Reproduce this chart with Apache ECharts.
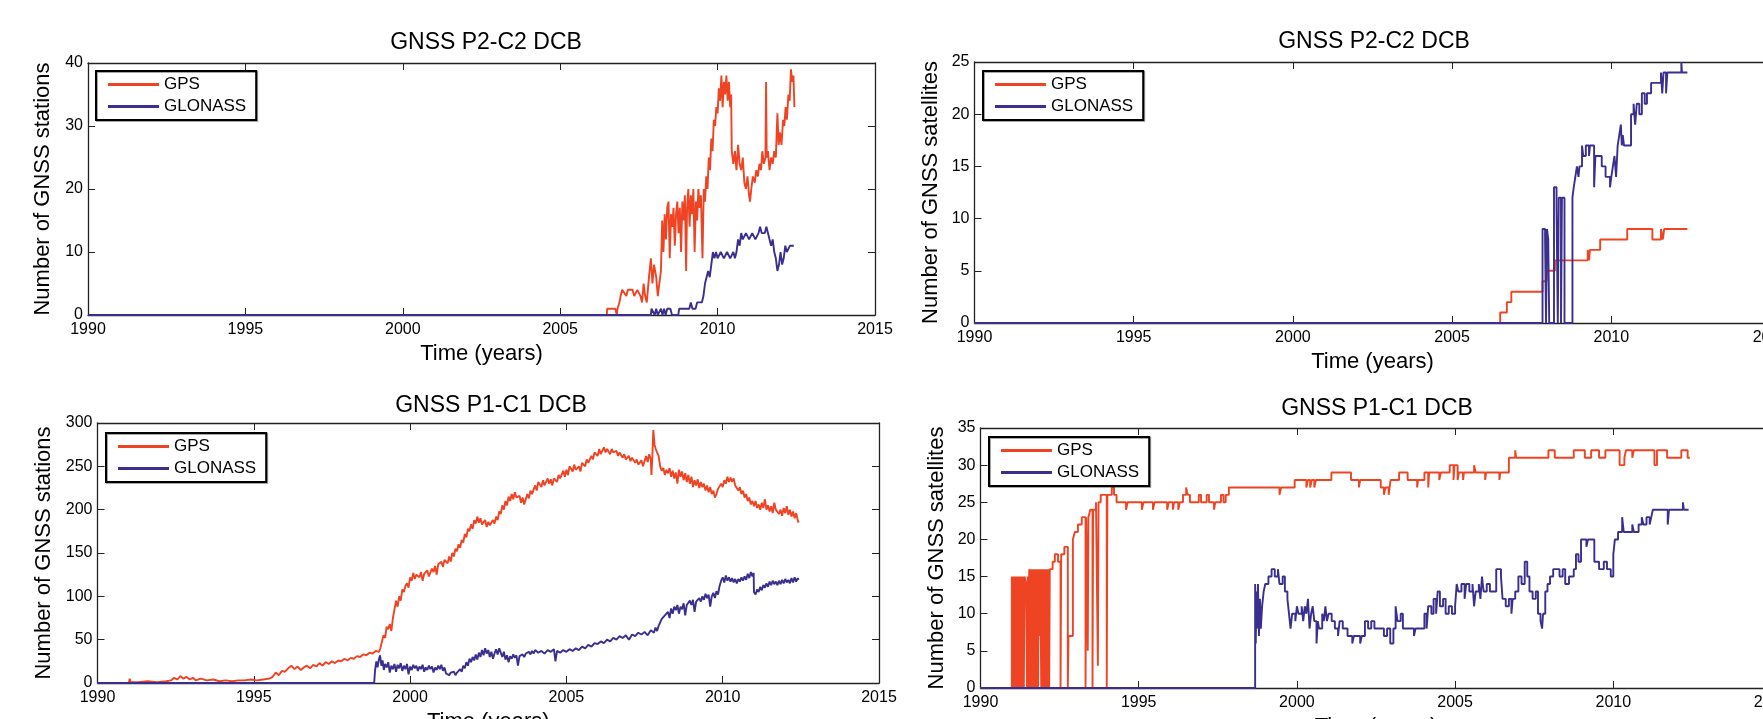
<!DOCTYPE html>
<html><head><meta charset="utf-8">
<script src="https://cdn.jsdelivr.net/npm/echarts/dist/echarts.min.js"></script>
<style>html,body{margin:0;padding:0;background:#fff;overflow:hidden}#c{width:1763px;height:719px}</style>
</head><body><div id="c"></div><script>
// ---------- tick labels ----------
const xTicks = [1990, 1995, 2000, 2005, 2010, 2015];
const tlYTicks = [0, 10, 20, 30, 40];
const trYTicks = [0, 5, 10, 15, 20, 25];
const blYTicks = [0, 50, 100, 150, 200, 250, 300];
const brYTicks = [0, 5, 10, 15, 20, 25, 30, 35];
const seriesNames = ['GPS', 'GLONASS'];
const titles = ['GNSS P2-C2 DCB', 'GNSS P2-C2 DCB', 'GNSS P1-C1 DCB', 'GNSS P1-C1 DCB'];
const yNames = ['Number of GNSS stations', 'Number of GNSS satellites', 'Number of GNSS stations', 'Number of GNSS satellites'];
const xName = 'Time (years)';

// ---------- top-left: P2-C2 stations ----------
const tlGps = [[1990,0],[2006.48,0],[2006.49,1],[2006.75,1],[2006.8,0],[2006.82,1],[2006.88,2],[2006.92,3],[2006.97,4],[2007.1,3],[2007.15,4],[2007.3,4],[2007.35,3],[2007.45,4],[2007.55,3],[2007.6,2],[2007.65,5],[2007.7,3],[2007.75,2],[2007.82,6],[2007.88,9],[2007.93,5],[2007.98,8],[2008.05,6],[2008.1,3],[2008.15,5],[2008.2,7],[2008.24,15],[2008.28,10],[2008.32,16],[2008.36,12],[2008.4,17],[2008.44,18],[2008.48,9],[2008.52,16],[2008.56,14],[2008.6,17],[2008.64,11],[2008.68,16],[2008.72,18],[2008.76,13],[2008.8,17],[2008.84,10],[2008.88,18],[2008.92,15],[2008.96,19],[2009.0,7],[2009.03,17],[2009.07,20],[2009.11,14],[2009.15,19],[2009.19,16],[2009.23,20],[2009.27,10],[2009.31,18],[2009.35,15],[2009.39,20],[2009.43,17],[2009.47,19],[2009.52,9],[2009.56,20],[2009.6,18],[2009.64,22],[2009.68,20],[2009.72,25],[2009.76,23],[2009.8,28],[2009.84,26],[2009.88,31],[2009.92,30],[2009.96,33],[2010.0,32],[2010.04,36],[2010.08,34],[2010.12,38],[2010.16,33],[2010.2,37],[2010.24,35],[2010.28,38],[2010.32,34],[2010.36,37],[2010.4,33],[2010.43,35],[2010.45,26],[2010.5,24],[2010.55,26],[2010.6,23],[2010.65,27],[2010.7,24],[2010.75,23],[2010.8,25],[2010.85,21],[2010.9,20],[2010.95,22],[2011.0,19],[2011.03,18],[2011.07,20],[2011.12,22],[2011.18,21],[2011.23,23],[2011.28,22],[2011.33,24],[2011.38,23],[2011.42,26],[2011.47,24],[2011.52,25],[2011.54,37],[2011.56,25],[2011.6,26],[2011.65,23],[2011.7,25],[2011.75,24],[2011.8,26],[2011.85,25],[2011.9,32],[2011.94,27],[2011.98,29],[2012.03,27],[2012.08,31],[2012.12,30],[2012.16,33],[2012.2,31],[2012.25,35],[2012.29,34],[2012.33,39],[2012.37,37],[2012.41,38],[2012.44,33]];
const tlGlo = [[1990,0],[2007.88,0],[2007.9,1],[2008.0,0],[2008.05,1],[2008.1,0],[2008.2,1],[2008.25,0],[2008.3,1],[2008.35,0],[2008.4,1],[2008.5,1],[2008.55,0],[2008.75,0],[2008.78,1],[2009.1,1],[2009.15,2],[2009.2,1],[2009.3,1],[2009.35,2],[2009.5,2],[2009.55,3],[2009.6,5],[2009.65,6],[2009.7,7],[2009.75,6],[2009.8,8],[2009.85,10],[2009.9,9],[2009.95,10],[2010.0,9],[2010.1,10],[2010.2,9],[2010.3,10],[2010.4,9],[2010.5,10],[2010.55,9],[2010.6,10],[2010.65,12],[2010.7,11],[2010.75,13],[2010.8,12],[2010.9,13],[2011.0,12],[2011.1,13],[2011.2,12],[2011.3,13],[2011.35,14],[2011.4,13],[2011.5,13],[2011.55,14],[2011.6,13],[2011.65,12],[2011.7,11],[2011.75,12],[2011.8,10],[2011.85,9],[2011.9,7],[2011.95,8],[2012.0,10],[2012.05,8],[2012.1,9],[2012.15,11],[2012.2,10],[2012.3,11],[2012.42,11]];

// ---------- top-right: P2-C2 satellites ----------
const trGps = [[1990,0],[2006.51,1],[2006.72,2],[2006.86,3],[2007.84,4],[2007.97,5],[2008.23,6],[2009.26,7],[2009.3,6],[2009.33,7],[2009.65,8],[2010.5,9],[2011.29,8],[2011.56,9],[2011.62,8],[2011.66,9],[2012.39,9]];
const trGlo = [[1990,0],[2007.84,9],[2007.92,8],[2007.95,0],[2007.98,9],[2008.02,8],[2008.05,0],[2008.2,13],[2008.28,11],[2008.32,0],[2008.35,12],[2008.42,0],[2008.45,12],[2008.53,0],[2008.78,12],[2008.82,13],[2008.87,14],[2008.92,15],[2008.97,14],[2009.0,15],[2009.08,17],[2009.12,16],[2009.2,17],[2009.3,16],[2009.33,17],[2009.46,13],[2009.5,16],[2009.7,15],[2009.82,14],[2009.96,13],[2010.0,14],[2010.05,15],[2010.1,16],[2010.15,14],[2010.2,17],[2010.25,18],[2010.3,19],[2010.33,17],[2010.36,18],[2010.4,17],[2010.62,20],[2010.7,21],[2010.75,19],[2010.8,21],[2010.88,20],[2010.96,22],[2011.05,21],[2011.12,22],[2011.25,23],[2011.56,24],[2011.6,22],[2011.64,24],[2011.72,22],[2011.76,24],[2012.2,25],[2012.22,24],[2012.39,24]];

// ---------- bottom-left: P1-C1 stations ----------
const blGps = [[1990,0],[1991.0,0],[1991.03,5],[1991.06,1],[1991.3,1],[1991.6,2],[1991.9,1],[1992.2,2],[1992.35,3],[1992.45,6],[1992.55,4],[1992.65,8],[1992.75,5],[1992.85,7],[1992.95,4],[1993.05,6],[1993.15,3],[1993.3,5],[1993.5,3],[1993.7,4],[1993.9,2],[1994.1,3],[1994.3,2],[1994.5,3],[1994.7,3],[1994.9,4],[1995.1,3],[1995.3,4],[1995.5,5],[1995.6,7],[1995.7,12],[1995.8,9],[1995.9,14],[1996.0,13],[1996.1,17],[1996.2,20],[1996.3,16],[1996.4,19],[1996.5,15],[1996.6,18],[1996.7,20],[1996.8,17],[1996.9,21],[1997.0,19],[1997.1,23],[1997.2,20],[1997.3,24],[1997.4,22],[1997.5,25],[1997.6,23],[1997.7,26],[1997.8,25],[1997.9,28],[1998.0,26],[1998.1,29],[1998.2,28],[1998.3,31],[1998.4,30],[1998.5,33],[1998.6,32],[1998.7,35],[1998.8,34],[1998.9,37],[1999.0,36],[1999.05,40],[1999.1,48],[1999.15,55],[1999.2,52],[1999.25,65],[1999.3,62],[1999.35,68],[1999.4,60],[1999.45,75],[1999.5,85],[1999.55,95],[1999.6,88],[1999.65,100],[1999.7,95],[1999.75,108],[1999.8,105],[1999.85,112],[1999.9,115],[1999.95,110],[2000.0,122],[2000.05,118],[2000.1,127],[2000.15,120],[2000.2,125],[2000.3,122],[2000.35,128],[2000.4,118],[2000.45,126],[2000.5,124],[2000.55,130],[2000.6,123],[2000.7,132],[2000.75,128],[2000.8,135],[2000.85,125],[2000.9,137],[2001.0,140],[2001.05,134],[2001.1,142],[2001.2,138],[2001.25,146],[2001.3,140],[2001.35,150],[2001.4,146],[2001.45,155],[2001.5,152],[2001.55,160],[2001.6,156],[2001.65,165],[2001.7,162],[2001.75,172],[2001.8,168],[2001.85,178],[2001.9,175],[2001.95,183],[2002.0,178],[2002.05,188],[2002.1,184],[2002.15,192],[2002.2,185],[2002.25,190],[2002.3,183],[2002.4,188],[2002.45,180],[2002.5,186],[2002.55,182],[2002.6,180],[2002.65,188],[2002.7,184],[2002.75,192],[2002.8,188],[2002.85,198],[2002.9,195],[2002.95,205],[2003.0,200],[2003.05,210],[2003.1,205],[2003.15,215],[2003.2,210],[2003.25,218],[2003.3,212],[2003.35,220],[2003.4,214],[2003.5,216],[2003.55,208],[2003.6,214],[2003.65,206],[2003.7,212],[2003.75,218],[2003.8,213],[2003.85,222],[2003.9,218],[2004.0,228],[2004.05,222],[2004.1,232],[2004.2,226],[2004.25,234],[2004.3,228],[2004.4,236],[2004.45,230],[2004.5,235],[2004.55,228],[2004.6,236],[2004.7,232],[2004.75,240],[2004.8,236],[2004.9,245],[2004.95,238],[2005.0,246],[2005.05,240],[2005.1,250],[2005.2,244],[2005.25,252],[2005.3,246],[2005.4,250],[2005.45,244],[2005.5,254],[2005.6,250],[2005.65,258],[2005.7,254],[2005.8,262],[2005.85,258],[2005.9,266],[2006.0,262],[2006.05,270],[2006.1,264],[2006.2,272],[2006.25,266],[2006.3,270],[2006.4,264],[2006.45,270],[2006.5,266],[2006.6,268],[2006.65,262],[2006.7,266],[2006.8,260],[2006.85,264],[2006.9,258],[2007.0,262],[2007.05,256],[2007.1,260],[2007.2,254],[2007.25,258],[2007.3,252],[2007.4,257],[2007.45,250],[2007.5,256],[2007.55,262],[2007.6,255],[2007.65,264],[2007.7,258],[2007.72,240],[2007.75,262],[2007.78,292],[2007.82,275],[2007.86,270],[2007.9,266],[2007.95,262],[2008.0,250],[2008.05,245],[2008.1,248],[2008.15,240],[2008.2,246],[2008.25,242],[2008.3,248],[2008.35,238],[2008.4,245],[2008.45,236],[2008.5,243],[2008.55,230],[2008.6,246],[2008.65,238],[2008.7,244],[2008.75,234],[2008.8,242],[2008.85,232],[2008.9,240],[2008.95,230],[2009.0,238],[2009.05,226],[2009.1,234],[2009.15,228],[2009.2,235],[2009.25,225],[2009.3,232],[2009.35,226],[2009.4,230],[2009.45,222],[2009.5,228],[2009.55,220],[2009.6,226],[2009.65,218],[2009.7,222],[2009.75,214],[2009.8,218],[2009.85,224],[2009.9,222],[2009.95,230],[2010.0,226],[2010.05,234],[2010.1,230],[2010.15,238],[2010.2,232],[2010.25,237],[2010.3,232],[2010.35,236],[2010.4,228],[2010.45,230],[2010.5,222],[2010.55,226],[2010.6,218],[2010.65,222],[2010.7,214],[2010.75,218],[2010.8,210],[2010.85,214],[2010.9,206],[2010.95,210],[2011.0,204],[2011.05,210],[2011.1,202],[2011.15,206],[2011.2,200],[2011.25,208],[2011.3,202],[2011.35,212],[2011.4,200],[2011.45,205],[2011.5,198],[2011.55,204],[2011.6,196],[2011.65,208],[2011.7,200],[2011.75,202],[2011.8,195],[2011.85,200],[2011.9,193],[2011.95,202],[2012.0,196],[2012.05,204],[2012.1,194],[2012.15,200],[2012.2,192],[2012.25,198],[2012.3,190],[2012.35,196],[2012.4,188],[2012.43,185]];
const blGlo = [[1990,0],[1998.85,0],[1998.88,15],[1998.92,25],[1998.96,18],[1999.0,27],[1999.04,32],[1999.08,20],[1999.12,26],[1999.16,15],[1999.2,22],[1999.25,18],[1999.3,24],[1999.35,12],[1999.4,20],[1999.45,16],[1999.5,22],[1999.55,13],[1999.6,21],[1999.65,17],[1999.7,23],[1999.75,14],[1999.8,20],[1999.85,16],[1999.9,22],[1999.95,10],[2000.0,19],[2000.05,15],[2000.1,21],[2000.15,17],[2000.2,20],[2000.25,14],[2000.3,19],[2000.35,16],[2000.4,21],[2000.45,13],[2000.5,18],[2000.55,15],[2000.6,20],[2000.65,16],[2000.7,19],[2000.75,12],[2000.8,18],[2000.85,15],[2000.9,20],[2000.95,16],[2001.0,21],[2001.05,14],[2001.1,18],[2001.15,11],[2001.2,13],[2001.25,9],[2001.3,12],[2001.35,10],[2001.4,13],[2001.45,9],[2001.5,12],[2001.55,10],[2001.6,16],[2001.65,13],[2001.7,20],[2001.75,17],[2001.8,24],[2001.85,20],[2001.9,28],[2001.95,24],[2002.0,30],[2002.05,26],[2002.1,33],[2002.15,27],[2002.2,35],[2002.25,30],[2002.3,38],[2002.35,32],[2002.4,40],[2002.45,34],[2002.5,38],[2002.55,30],[2002.6,36],[2002.65,28],[2002.7,34],[2002.75,39],[2002.8,33],[2002.85,40],[2002.9,35],[2002.95,30],[2003.0,36],[2003.05,27],[2003.1,32],[2003.15,24],[2003.2,31],[2003.25,28],[2003.3,33],[2003.35,29],[2003.4,32],[2003.45,20],[2003.5,31],[2003.55,29],[2003.6,33],[2003.65,30],[2003.7,34],[2003.75,32],[2003.8,36],[2003.85,33],[2003.9,37],[2003.95,34],[2004.0,38],[2004.1,35],[2004.2,37],[2004.3,34],[2004.4,38],[2004.5,36],[2004.6,39],[2004.65,25],[2004.7,37],[2004.8,35],[2004.9,38],[2005.0,36],[2005.1,39],[2005.2,37],[2005.3,40],[2005.4,38],[2005.5,42],[2005.6,40],[2005.7,44],[2005.8,42],[2005.9,46],[2006.0,45],[2006.1,48],[2006.2,46],[2006.3,50],[2006.4,48],[2006.5,52],[2006.6,50],[2006.7,54],[2006.8,52],[2006.9,55],[2007.0,50],[2007.1,56],[2007.2,54],[2007.3,58],[2007.4,56],[2007.5,59],[2007.6,55],[2007.7,61],[2007.8,58],[2007.85,64],[2007.9,60],[2007.95,66],[2008.0,70],[2008.05,74],[2008.1,72],[2008.15,78],[2008.2,76],[2008.25,82],[2008.3,75],[2008.35,86],[2008.4,80],[2008.45,88],[2008.5,84],[2008.55,90],[2008.6,80],[2008.65,88],[2008.7,85],[2008.75,92],[2008.8,78],[2008.85,90],[2008.9,88],[2008.95,95],[2009.0,90],[2009.05,96],[2009.1,82],[2009.15,94],[2009.2,92],[2009.25,98],[2009.3,94],[2009.35,100],[2009.4,96],[2009.45,103],[2009.5,98],[2009.55,102],[2009.6,88],[2009.65,100],[2009.7,104],[2009.75,98],[2009.8,106],[2009.85,102],[2009.9,112],[2009.95,118],[2010.0,122],[2010.05,116],[2010.1,124],[2010.15,118],[2010.2,122],[2010.25,117],[2010.3,121],[2010.35,116],[2010.4,120],[2010.45,115],[2010.5,120],[2010.55,117],[2010.6,122],[2010.65,118],[2010.7,123],[2010.75,119],[2010.8,126],[2010.85,121],[2010.9,128],[2010.95,123],[2010.99,127],[2011.0,105],[2011.05,102],[2011.1,108],[2011.15,105],[2011.2,111],[2011.25,107],[2011.3,113],[2011.35,110],[2011.4,115],[2011.45,111],[2011.5,117],[2011.55,113],[2011.6,118],[2011.65,114],[2011.7,117],[2011.75,113],[2011.8,118],[2011.85,114],[2011.9,119],[2011.95,115],[2012.0,120],[2012.05,116],[2012.1,119],[2012.15,115],[2012.2,121],[2012.25,116],[2012.3,122],[2012.35,117],[2012.4,121],[2012.43,119]];

// ---------- bottom-right: P1-C1 satellites ----------
const brGps = [[1990,0],[1990.99,15],[1991.02,0],[1991.04,15],[1991.07,0],[1991.09,15],[1991.12,0],[1991.14,15],[1991.17,0],[1991.19,15],[1991.22,0],[1991.24,15],[1991.27,0],[1991.29,15],[1991.32,0],[1991.34,15],[1991.37,0],[1991.39,15],[1991.44,14],[1991.47,0],[1991.49,15],[1991.52,0],[1991.54,16],[1991.57,0],[1991.59,16],[1991.62,0],[1991.64,16],[1991.67,0],[1991.69,16],[1991.72,0],[1991.74,16],[1991.77,0],[1991.79,16],[1991.82,0],[1991.84,16],[1991.87,7],[1991.89,16],[1991.92,0],[1991.94,16],[1991.97,0],[1991.99,16],[1992.02,0],[1992.04,16],[1992.07,0],[1992.09,16],[1992.12,0],[1992.14,16],[1992.17,0],[1992.19,16],[1992.28,17],[1992.35,18],[1992.45,17],[1992.53,0],[1992.55,18],[1992.65,19],[1992.76,0],[1992.78,7],[1992.92,20],[1992.98,21],[1993.08,22],[1993.2,23],[1993.32,0],[1993.34,23],[1993.39,5],[1993.41,23],[1993.47,24],[1993.54,0],[1993.56,24],[1993.65,25],[1993.71,3],[1993.73,25],[1993.8,26],[1993.99,0],[1994.01,26],[1994.15,27],[1994.22,26],[1994.3,25],[1994.6,24],[1994.65,25],[1995.1,24],[1995.15,25],[1995.45,24],[1995.5,25],[1995.9,24],[1995.95,25],[1996.08,24],[1996.12,25],[1996.25,24],[1996.3,25],[1996.4,26],[1996.5,27],[1996.55,26],[1996.62,25],[1996.9,26],[1996.97,25],[1997.15,26],[1997.22,25],[1997.38,24],[1997.42,25],[1997.6,26],[1997.68,25],[1997.75,26],[1997.85,27],[1999.45,26],[1999.5,27],[1999.93,28],[2000.3,27],[2000.35,28],[2000.42,27],[2000.47,28],[2000.55,27],[2000.6,28],[2001.09,29],[2001.71,28],[2001.96,27],[2002.0,28],[2002.65,27],[2002.75,26],[2002.8,27],[2002.9,26],[2002.96,28],[2003.23,29],[2003.5,28],[2003.8,27],[2003.83,28],[2004.03,29],[2004.15,27],[2004.18,29],[2004.5,28],[2004.55,29],[2004.83,30],[2004.95,28],[2004.98,30],[2005.08,28],[2005.12,29],[2005.25,28],[2005.28,29],[2005.6,30],[2005.65,29],[2005.95,28],[2005.98,29],[2006.4,28],[2006.43,29],[2006.7,31],[2006.9,32],[2006.93,31],[2007.95,32],[2008.15,31],[2008.75,32],[2009.1,31],[2009.3,32],[2009.55,31],[2009.75,32],[2010.2,30],[2010.35,31],[2010.4,32],[2010.6,31],[2010.65,32],[2011.3,30],[2011.38,32],[2011.7,31],[2012.15,32],[2012.35,31],[2012.42,31]];
const brGlo = [[1990,0],[1998.68,14],[1998.7,6],[1998.72,13],[1998.74,8],[1998.77,14],[1998.8,7],[1998.83,12],[1998.86,8],[1998.9,11],[1998.95,13],[1999.0,14],[1999.1,15],[1999.2,16],[1999.3,15],[1999.4,16],[1999.45,14],[1999.55,15],[1999.62,13],[1999.7,12],[1999.75,10],[1999.8,8],[1999.85,10],[1999.95,9],[2000.0,11],[2000.05,10],[2000.15,11],[2000.2,9],[2000.25,11],[2000.3,10],[2000.35,12],[2000.4,8],[2000.45,10],[2000.5,11],[2000.55,9],[2000.62,6],[2000.66,9],[2000.7,8],[2000.8,10],[2000.85,9],[2000.9,11],[2000.95,9],[2001.0,10],[2001.1,9],[2001.2,8],[2001.3,7],[2001.35,9],[2001.45,8],[2001.6,7],[2001.75,6],[2001.8,7],[2002.0,6],[2002.05,7],[2002.15,9],[2002.25,8],[2002.35,9],[2002.45,8],[2002.6,8],[2002.75,7],[2002.85,8],[2002.95,6],[2003.05,8],[2003.12,11],[2003.18,9],[2003.28,10],[2003.35,8],[2003.5,8],[2003.7,7],[2003.75,8],[2004.03,10],[2004.1,8],[2004.15,11],[2004.25,10],[2004.32,12],[2004.4,10],[2004.45,13],[2004.52,11],[2004.62,12],[2004.7,10],[2004.8,11],[2004.9,10],[2005.0,11],[2005.05,14],[2005.1,13],[2005.2,14],[2005.3,12],[2005.35,14],[2005.45,13],[2005.55,14],[2005.6,11],[2005.65,13],[2005.75,14],[2005.8,12],[2005.85,15],[2005.9,13],[2006.0,14],[2006.1,13],[2006.3,16],[2006.45,15],[2006.5,12],[2006.6,11],[2006.7,12],[2006.78,10],[2006.82,12],[2006.9,13],[2007.0,15],[2007.1,14],[2007.2,17],[2007.28,15],[2007.35,13],[2007.45,12],[2007.55,13],[2007.62,10],[2007.7,9],[2007.75,8],[2007.78,10],[2007.85,13],[2007.92,14],[2008.0,15],[2008.1,16],[2008.3,15],[2008.4,16],[2008.48,14],[2008.6,15],[2008.75,16],[2008.82,18],[2008.9,17],[2008.98,20],[2009.15,19],[2009.2,20],[2009.4,17],[2009.55,16],[2009.7,17],[2009.8,16],[2009.92,15],[2010.0,18],[2010.05,20],[2010.15,21],[2010.28,23],[2010.33,21],[2010.5,21],[2010.6,22],[2010.65,21],[2010.8,22],[2010.9,23],[2010.95,22],[2011.05,23],[2011.15,22],[2011.2,23],[2011.25,24],[2011.72,22],[2011.76,24],[2012.2,25],[2012.23,24],[2012.38,24]];

// ---------- layout & style ----------
const FONT = '"Liberation Sans", Arial, Helvetica, sans-serif';
const RED = '#ef4423';
const BLUE = '#3a2f8f';
const AXIS = '#222';

const panels = [
  { yTicks: tlYTicks, gps: tlGps, glo: tlGlo, step: false, grid: { left: 88, top: 63, width: 787, height: 252 }, title: [481, 26], legend: [96, 71], yGap: 34, xGap: 28 },
  { yTicks: trYTicks, gps: trGps, glo: trGlo, step: true, grid: { left: 974.5, top: 62, width: 796, height: 261 }, title: [1369, 25], legend: [983, 71], yGap: 33, xGap: 28 },
  { yTicks: blYTicks, gps: blGps, glo: blGlo, step: false, grid: { left: 97.5, top: 423, width: 781.5, height: 260 }, title: [486, 389], legend: [106, 433], yGap: 43, xGap: 28 },
  { yTicks: brYTicks, gps: brGps, glo: brGlo, step: true, grid: { left: 980.5, top: 428, width: 791, height: 260 }, title: [1372, 392], legend: [989, 437], yGap: 33, xGap: 28 }
];

const option = { animation: false, backgroundColor: '#fff', title: [], legend: [], grid: [], xAxis: [], yAxis: [], series: [] };

panels.forEach((p, i) => {
  option.grid.push(Object.assign({ containLabel: false, outerBoundsMode: 'none' }, p.grid));
  option.title.push({
    text: titles[i], left: p.title[0], top: p.title[1], textAlign: 'center',
    textStyle: { fontFamily: FONT, fontSize: 23, fontWeight: 'normal', color: '#000' }
  });
  option.legend.push({
    left: p.legend[0], top: p.legend[1], orient: 'vertical', data: seriesNames.slice(),
    icon: 'rect', itemWidth: 51, itemHeight: 3, itemGap: 3, padding: [4, 10, 4, 12],
    borderColor: '#000', borderWidth: 2, backgroundColor: '#fff', selectedMode: false,
    shadowColor: 'rgba(0,0,0,0.35)', shadowOffsetX: 1, shadowOffsetY: 1,
    textStyle: { fontFamily: FONT, fontSize: 17, color: '#000', lineHeight: 19 }
  });
  const yMin = p.yTicks[0], yMax = p.yTicks[p.yTicks.length - 1], yInt = p.yTicks[1] - p.yTicks[0];
  const xMin = xTicks[0], xMax = xTicks[xTicks.length - 1], xInt = xTicks[1] - xTicks[0];
  const tick = { show: true, inside: true, length: 7, lineStyle: { color: AXIS, width: 1 } };
  const line = { show: true, onZero: false, lineStyle: { color: AXIS, width: 1.3 } };
  option.xAxis.push({
    type: 'value', gridIndex: i, position: 'bottom', min: xMin, max: xMax, interval: xInt,
    axisLine: line, axisTick: tick, splitLine: { show: false },
    axisLabel: { color: '#000', fontSize: 16, fontFamily: FONT, margin: 7, formatter: v => String(v) },
    name: xName, nameLocation: 'middle', nameGap: p.xGap,
    nameTextStyle: { fontFamily: FONT, fontSize: 22, color: '#000' }
  });
  option.xAxis.push({
    type: 'value', gridIndex: i, position: 'top', min: xMin, max: xMax, interval: xInt,
    axisLine: line, axisTick: tick, splitLine: { show: false }, axisLabel: { show: false }
  });
  option.yAxis.push({
    type: 'value', gridIndex: i, position: 'left', min: yMin, max: yMax, interval: yInt,
    axisLine: line, axisTick: tick, splitLine: { show: false },
    axisLabel: { color: '#000', fontSize: 16, fontFamily: FONT, margin: 5, formatter: v => String(v) },
    name: yNames[i], nameLocation: 'middle', nameGap: p.yGap,
    nameTextStyle: { fontFamily: FONT, fontSize: 22, color: '#000' }
  });
  option.yAxis.push({
    type: 'value', gridIndex: i, position: 'right', min: yMin, max: yMax, interval: yInt,
    axisLine: line, axisTick: tick, splitLine: { show: false }, axisLabel: { show: false }
  });
  [[seriesNames[0], p.gps, RED], [seriesNames[1], p.glo, BLUE]].forEach(([name, data, color]) => {
    option.series.push({
      type: 'line', name: name, xAxisIndex: 2 * i, yAxisIndex: 2 * i, data: data,
      step: p.step ? 'end' : false, showSymbol: false, symbol: 'none', smooth: false,
      color: color, lineStyle: { color: color, width: 1.9 }, clip: true, silent: true
    });
  });
});

const chart = echarts.init(document.getElementById('c'), null, { renderer: 'canvas' });
chart.setOption(option);
</script></body></html>
